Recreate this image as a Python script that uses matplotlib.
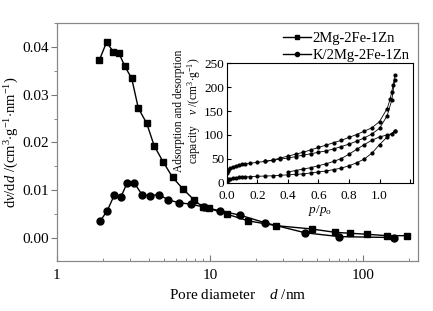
import numpy as np
import matplotlib
matplotlib.use('Agg')
import matplotlib.pyplot as plt
from matplotlib.ticker import MultipleLocator, LogLocator, NullFormatter

plt.rcParams['font.family'] = 'Liberation Serif'
plt.rcParams['mathtext.fontset'] = 'custom'
plt.rcParams['mathtext.rm'] = 'Liberation Serif'
plt.rcParams['mathtext.it'] = 'Liberation Serif:italic'

# Pore size distribution, 2Mg-2Fe-1Zn (squares)
d_a = [1.89, 2.11, 2.33, 2.54, 2.78, 3.08, 3.40, 3.86, 4.32, 4.95, 5.70, 6.69,
       7.86, 9.04, 9.85, 12.9, 17.8, 27.0, 46.2, 65.6, 82.6, 105.7, 143, 193]
v_a = [0.0372, 0.0410, 0.0390, 0.0387, 0.0359, 0.0334, 0.0272, 0.0240, 0.0193,
       0.0159, 0.0127, 0.0102, 0.0080, 0.0064, 0.0062, 0.0050, 0.0036, 0.0026,
       0.0019, 0.0012, 0.0010, 0.0008, 0.0005, 0.0005]

# Pore size distribution, K/2Mg-2Fe-1Zn (circles)
d_b = [1.92, 2.13, 2.37, 2.61, 2.88, 3.19, 3.61, 4.05, 4.64, 5.33, 6.24, 7.48,
       9.1, 11.6, 15.7, 22.9, 41.9, 70.1, 160]
v_b = [0.0036, 0.0057, 0.0090, 0.0085, 0.0116, 0.0116, 0.0090, 0.0089, 0.0091,
       0.0080, 0.0074, 0.0071, 0.0065, 0.0057, 0.0048, 0.0032, 0.0011, 0.0003,
       0.0001]

# N2 isotherms (inset), upper pair
p_ads_a = [0.0, 0.005, 0.01, 0.02, 0.04, 0.06, 0.08, 0.1, 0.12, 0.15, 0.2, 0.25,
           0.3, 0.35, 0.4, 0.45, 0.5, 0.55, 0.6, 0.65, 0.7, 0.75, 0.8, 0.85,
           0.9, 0.95, 1.0, 1.05, 1.08, 1.1]
q_ads_a = [20, 25, 28, 31, 34, 36, 38, 39, 40, 41, 43, 45, 47, 50, 52, 55, 58,
           61, 64, 67, 71, 76, 81, 87, 94, 102, 114, 140, 172, 215]
p_des_a = [1.1, 1.09, 1.08, 1.07, 1.05, 1.0, 0.95, 0.9, 0.85, 0.8, 0.75, 0.7,
           0.65, 0.6, 0.55, 0.5, 0.45, 0.4, 0.35, 0.3, 0.25]
q_des_a = [225, 205, 190, 175, 155, 128, 115, 108, 101, 95, 89, 84, 79, 74, 69,
           64, 60, 56, 52, 48, 45]

# N2 isotherms (inset), lower pair
p_ads_b = [0.0, 0.005, 0.01, 0.02, 0.04, 0.06, 0.08, 0.1, 0.12, 0.15, 0.2, 0.25,
           0.3, 0.35, 0.4, 0.45, 0.5, 0.55, 0.6, 0.65, 0.7, 0.75, 0.8, 0.85,
           0.9, 0.95, 1.0, 1.05, 1.1]
q_ads_b = [3, 6, 8, 9, 10, 11, 11.5, 12, 12.5, 13, 14, 14.5, 15, 16, 17, 18, 19,
           21, 23, 25, 28, 31, 36, 42, 50, 62, 80, 96, 108]
p_des_b = [1.1, 1.08, 1.05, 1.0, 0.95, 0.9, 0.85, 0.8, 0.75, 0.7, 0.65, 0.6,
           0.55, 0.5, 0.45, 0.4]
q_des_b = [108, 103, 100, 96, 89, 80, 70, 60, 51, 45, 40, 36, 32, 29, 26, 23]

fig = plt.figure(figsize=(4.33, 3.11), dpi=100)
ax = fig.add_axes([0.1316, 0.1608, 0.8338, 0.7652])

ax.plot(d_a, v_a, '-s', color='black', lw=1, ms=5, label='2Mg-2Fe-1Zn')
ax.plot(d_b, v_b, '-o', color='black', lw=1, ms=5, label='K/2Mg-2Fe-1Zn')
ax.set_xscale('log')
ax.set_xlim(1, 229)
ax.set_ylim(-0.0048, 0.045)
ax.yaxis.set_minor_locator(MultipleLocator(0.005))
ax.set_yticks([0.0, 0.01, 0.02, 0.03, 0.04])
ax.set_yticklabels(['0.00', '0.01', '0.02', '0.03', '0.04'])
ax.set_xticks([1, 10, 100])
ax.set_xticklabels(['1', '10', '100'])
ax.xaxis.set_minor_locator(LogLocator(base=10, subs=np.arange(2, 10)))
ax.xaxis.set_minor_formatter(NullFormatter())
ax.tick_params(axis='x', which='both', direction='in', labelsize=11, color='#777', pad=6)
ax.tick_params(axis='y', which='both', direction='out', labelsize=11, color='#777', pad=1.6)
ax.tick_params(which='major', length=4)
ax.tick_params(which='minor', length=2.5)
for s in ax.spines.values():
    s.set_color('#888')
    s.set_linewidth(0.9)
ax.set_xlabel(r'Pore diameter    $\it{d}$ /nm', fontsize=11, labelpad=4)
ax.set_ylabel(r'd$v$/d$\it{d}$ /(cm$^3$$\cdot$g$^{-1}$$\cdot$nm$^{-1}$)', fontsize=10.5)
ax.yaxis.set_label_coords(-0.1, 0.5)
ax.legend(loc='upper right', frameon=False, fontsize=10.5, handlelength=1.9,
          handletextpad=0.1, labelspacing=0.25, markerscale=0.6,
          borderaxespad=0.2)

ins = fig.add_axes([0.524, 0.4116, 0.430, 0.3858])
for p, q in [(p_ads_a, q_ads_a), (p_des_a, q_des_a), (p_ads_b, q_ads_b), (p_des_b, q_des_b)]:
    ins.plot(p, q, '-o', color='black', lw=0.6, ms=2)
ins.set_xlim(0, 1.22)
ins.set_ylim(0, 250)
ins.set_xticks([0.0, 0.2, 0.4, 0.6, 0.8, 1.0, 1.2])
ins.set_xticklabels(['0.0', '0.2', '0.4', '0.6', '0.8', '1.0', ''])
ins.set_yticks([0, 50, 100, 150, 200, 250])
ins.tick_params(direction='in', labelsize=9.5, length=3, pad=2)
ins.tick_params(axis='x', pad=5)
ins.set_xlabel(r'$p$/$p_\mathrm{o}$', fontsize=9.5, labelpad=1)
ins.set_ylabel('Adsorption and desorption\n' + r'capacity    $v$ /(cm$^3$$\cdot$g$^{-1}$)',
               fontsize=8.3, linespacing=1.0)
ins.yaxis.set_label_coords(-0.13, 0.6)

fig.savefig('out.png', dpi=100)
